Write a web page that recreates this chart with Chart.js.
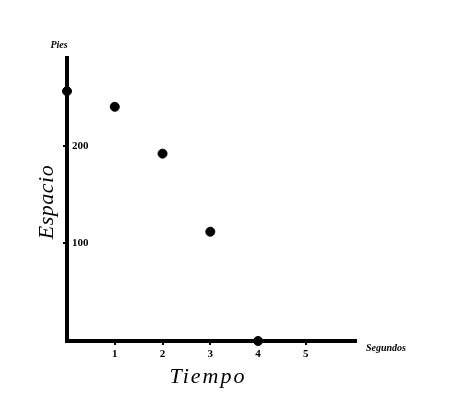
<!DOCTYPE html>
<html>
<head>
<meta charset="utf-8">
<script src="https://cdn.jsdelivr.net/npm/chart.js@4/dist/chart.umd.min.js"></script>
<style>
  html, body { margin: 0; padding: 0; background: #fff; }
  #wrap { width: 450px; height: 398px; }
</style>
</head>
<body>
<div id="wrap"><canvas id="chart"></canvas></div>
<script>
// tiempo (segundos) y espacio (pies)
const tiempo = [0, 1, 2, 3, 4];
const espacio = [256, 240, 192, 112, 0];
const xTicks = [1, 2, 3, 4, 5];
const yTicks = [100, 200];

const serif = "'Liberation Serif', 'DejaVu Serif', serif";

// textos sueltos: Pies, Segundos, Espacio, Tiempo
const labelsPlugin = {
  id: "labels",
  afterDraw(chart) {
    const { ctx, chartArea } = chart;
    ctx.save();
    ctx.fillStyle = "#000";

    ctx.font = "italic bold 10px " + serif;
    ctx.textAlign = "center";
    ctx.textBaseline = "middle";
    ctx.fillText("Pies", chartArea.left - 8, chartArea.top - 13);

    ctx.textAlign = "left";
    ctx.fillText("Segundos", chartArea.right + 10, chartArea.bottom + 7);

    ctx.font = "italic 22px " + serif;
    ctx.textAlign = "center";
    ctx.letterSpacing = "2px";
    ctx.fillText("Tiempo", 208, 377);

    ctx.letterSpacing = "0.5px";
    ctx.translate(47, 202);
    ctx.rotate(-Math.PI / 2);
    ctx.fillText("Espacio", 0, 0);
    ctx.restore();
  },
};

new Chart(document.getElementById("chart"), {
  type: "scatter",
  data: {
    datasets: [
      {
        data: tiempo.map((t, i) => ({ x: t, y: espacio[i] })),
        backgroundColor: "#000",
        borderColor: "#000",
        pointRadius: 4.5,
        pointHoverRadius: 4.5,
        clip: false,
      },
    ],
  },
  options: {
    responsive: true,
    maintainAspectRatio: false,
    animation: false,
    layout: { padding: { top: 58, right: 94, left: 0, bottom: 0 } },
    plugins: {
      legend: { display: false },
      tooltip: { enabled: false },
    },
    scales: {
      x: {
        type: "linear",
        min: 0,
        max: 6.05,
        afterBuildTicks: (scale) => {
          scale.ticks = xTicks.map((v) => ({ value: v }));
        },
        afterFit: (scale) => {
          scale.height = 57;
        },
        border: { display: true, color: "#000", width: 4 },
        grid: { drawOnChartArea: false, drawTicks: true, tickLength: 4, color: "#000", lineWidth: 2 },
        ticks: {
          color: "#000",
          padding: 3,
          font: { family: serif, size: 11, weight: "bold" },
        },
      },
      y: {
        min: 0,
        max: 290,
        afterBuildTicks: (scale) => {
          scale.ticks = yTicks.map((v) => ({ value: v }));
        },
        afterFit: (scale) => {
          scale.width = 67;
        },
        border: { display: true, color: "#000", width: 4 },
        grid: { drawOnChartArea: false, drawTicks: true, tickLength: 4, color: "#000", lineWidth: 2 },
        ticks: {
          mirror: true,
          color: "#000",
          padding: 5,
          font: { family: serif, size: 11, weight: "bold" },
        },
      },
    },
  },
  plugins: [labelsPlugin],
});
</script>
</body>
</html>
